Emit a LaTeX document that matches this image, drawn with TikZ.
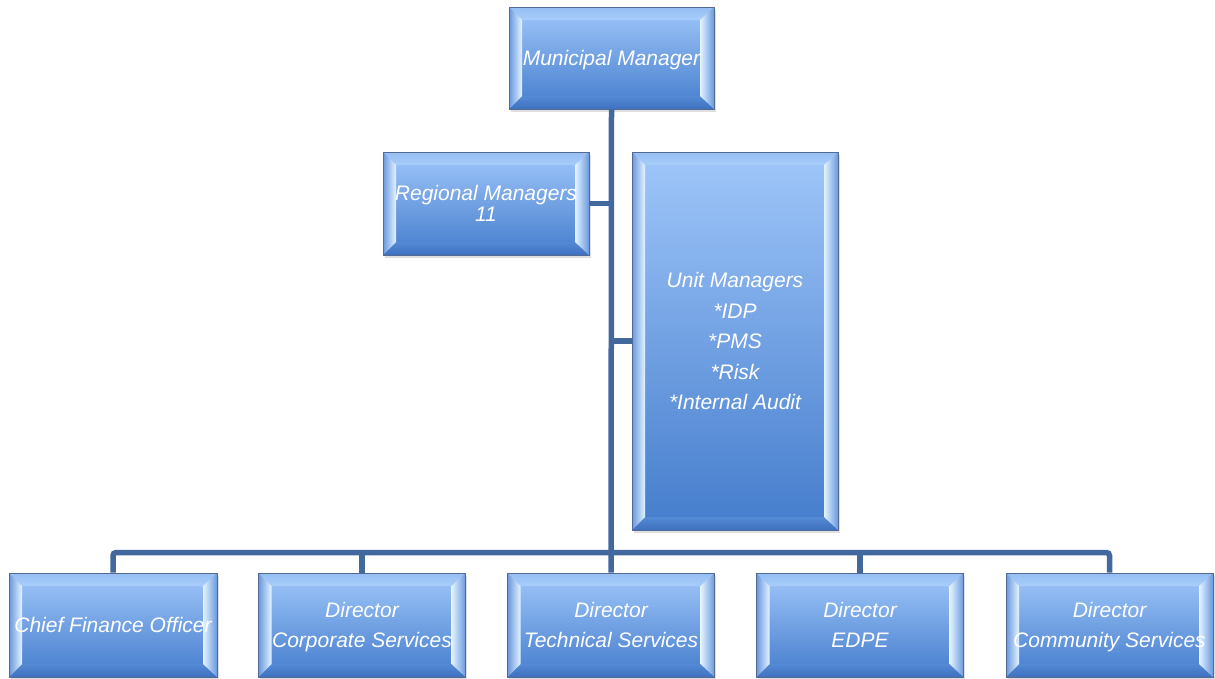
\documentclass[tikz,border=0pt]{standalone}
\usepackage{fontspec}
\setmainfont{Liberation Sans}
\usetikzlibrary{shadows}
\definecolor{boxtop}{RGB}{160,199,250}
\definecolor{boxbot}{RGB}{68,124,204}
\definecolor{bevout}{RGB}{105,152,222}
\definecolor{bevin}{RGB}{228,244,255}
\definecolor{bevtopA}{RGB}{150,190,242}
\definecolor{bevtopB}{RGB}{168,205,252}
\definecolor{bevbotA}{RGB}{84,138,214}
\definecolor{bevbotB}{RGB}{62,112,190}
\definecolor{edge}{RGB}{82,106,148}
\definecolor{linec}{RGB}{66,104,158}
\tikzset{
  orgbox/.style={
    draw=edge, line width=0.9pt, inner sep=0pt,
    minimum width=206pt, minimum height=103pt,
    text=white, align=center, text depth=0pt,
    font=\itshape\fontsize{21}{30.5}\selectfont,
    drop shadow={opacity=0.25, shadow xshift=1.5pt, shadow yshift=-3pt},
    path picture={
      \path (path picture bounding box.north west) coordinate (@nw)
            (path picture bounding box.north east) coordinate (@ne)
            (path picture bounding box.south east) coordinate (@se)
            (path picture bounding box.south west) coordinate (@sw);
      \path ([shift={(13pt,-13pt)}]@nw) coordinate (@nwi)
            ([shift={(-14pt,-13pt)}]@ne) coordinate (@nei)
            ([shift={(-14pt,13pt)}]@se) coordinate (@sei)
            ([shift={(13pt,13pt)}]@sw) coordinate (@swi);
      \shade[top color=boxtop, bottom color=boxbot] (@nw) rectangle (@se);
      \shade[top color=bevtopA, bottom color=bevtopB] (@nw) -- (@ne) -- (@nei) -- (@nwi) -- cycle;
      \shade[top color=bevbotA, bottom color=bevbotB] (@sw) -- (@se) -- (@sei) -- (@swi) -- cycle;
      \shade[left color=bevout, right color=bevin] (@nw) -- (@nwi) -- (@swi) -- (@sw) -- cycle;
      \shade[left color=bevin, right color=bevout] (@ne) -- (@nei) -- (@sei) -- (@se) -- cycle;
    }
  },
  conn/.style={draw=linec, line width=5.5pt, rounded corners=3pt}
}
\begin{document}
\begin{tikzpicture}[x=1pt,y=-1pt]
\useasboundingbox (0,0) rectangle (1215,678);
\node[orgbox, minimum width=205pt, minimum height=102pt] (mm) at (611.5,58) {Municipal Manager};
\node[orgbox, font=\itshape\fontsize{21}{21}\selectfont] (reg) at (486,203.5) {Regional Managers\\11};
\node[orgbox, minimum height=378pt] (unit) at (735,341) {Unit Managers\\*IDP\\*PMS\\*Risk\\*Internal Audit};
\node[orgbox, minimum width=208pt, minimum height=104pt] (cfo) at (113,625) {Chief Finance Officer};
\node[orgbox, minimum width=207pt, minimum height=104pt] (corp) at (362,625) {Director\\Corporate Services};
\node[orgbox, minimum width=207pt, minimum height=104pt] (tech) at (611,625) {Director\\Technical Services};
\node[orgbox, minimum width=207pt, minimum height=104pt] (edpe) at (860,625) {Director\\EDPE};
\node[orgbox, minimum width=207pt, minimum height=104pt] (comm) at (1109.5,625) {Director\\Community Services};
\draw[conn] (mm.south) -- (tech.north);
\draw[conn, rounded corners=0pt] (reg.east) -- (reg.east -| mm.south);
\draw[conn, rounded corners=0pt] (unit.west) -- (unit.west -| mm.south);
\draw[conn] (cfo.north) -- ++(0,-20) -| (comm.north);
\draw[conn] (corp.north) -- ++(0,-20);
\draw[conn] (edpe.north) -- ++(0,-20);
\end{tikzpicture}
\end{document}
